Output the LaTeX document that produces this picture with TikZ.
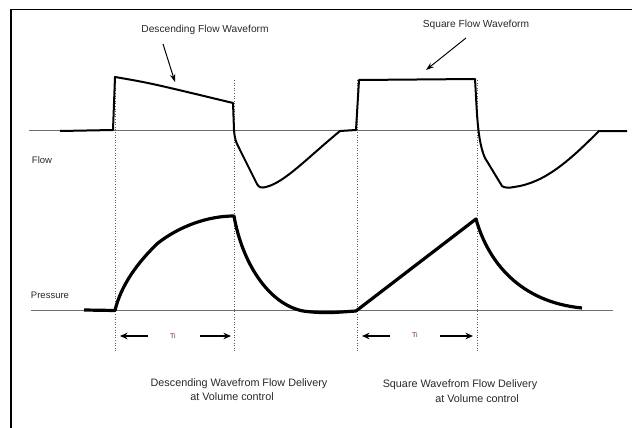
\documentclass[tikz,border=0pt]{standalone}
\usepackage{fontspec}
\setmainfont{Liberation Sans}
\usetikzlibrary{arrows.meta}
\definecolor{basegray}{RGB}{110,110,110}
\definecolor{dotgray}{RGB}{90,90,90}
\definecolor{tired}{RGB}{110,40,70}
\definecolor{txt}{RGB}{40,40,40}
\tikzset{
  frameline/.style={line width=1.3pt,black},
  baseline/.style={line width=1.5pt,basegray},
  guide/.style={line width=0.6pt,dotgray,dotted},
  flowwave/.style={line width=2pt,black,line join=round},
  preswave/.style={line width=3.2pt,black,line join=round},
  lbl/.style={font=\fontsize{9.5}{11}\selectfont,text=txt,inner sep=0pt},
  toplbl/.style={font=\fontsize{10.2}{12}\selectfont,text=txt,inner sep=0pt},
  caplbl/.style={font=\fontsize{10.8}{13}\selectfont,text=txt,inner sep=0pt},
  tilbl/.style={font=\fontsize{7}{8}\selectfont,text=tired,inner sep=0pt},
  ptr/.style={line width=1pt,black,-{Stealth[length=8pt,width=5.5pt]}},
  tiarrow/.style={line width=1.2pt,black,-{Stealth[length=7.5pt,width=6.5pt]}}
}
\begin{document}
\begin{tikzpicture}[x=1pt,y=-1pt]
\useasboundingbox (0,0) rectangle (632,428);
% frame
\draw[frameline] (11,428) -- (11,9.5) -- (632,9.5);
% baselines
\draw[baseline] (29,130.5) -- (627,130.5);
\draw[baseline] (31,310.5) -- (613,310.5);
% guide lines
\foreach \gx in {115,234,357,477}{
  \draw[guide] (\gx,80) -- (\gx,352);
}
% flow waveform
\draw[flowwave] (60,131) -- (113,130) -- (115,77)
  .. controls (150,83) .. (233,103) -- (234,130)
  .. controls (235,140) .. (241,152) -- (257,184)
  .. controls (259,188) and (262,188) .. (266,187)
  .. controls (285,182) and (305,160) .. (340,131)
  -- (356,130) -- (359,80) -- (475,79)
  .. controls (477,110) and (477,140) .. (485,158)
  -- (502,186)
  .. controls (504,188) and (510,188) .. (514,187)
  .. controls (545,183) and (570,160) .. (599,131) -- (627,131);
% pressure waveform
\draw[preswave] (84,310) -- (115,310.5)
  .. controls (121,285) and (138,262) .. (158,243)
  .. controls (180,226) and (208,216) .. (234,216)
  .. controls (242,262) and (268,304) .. (303,311)
  .. controls (325,314) and (340,312) .. (356,311)
  -- (476,219)
  .. controls (488,262) and (520,302) .. (582,308);
% labels
\node[lbl] (flow) at (42,160) {Flow};
\node[lbl] (pres) at (50,295) {Pressure};
\node[toplbl] (desc) at (205,30) {Descending Flow Waveform};
\node[toplbl] (squa) at (476,25) {Square Flow Waveform};
\coordinate (descfrom) at (163,44);
\coordinate (desctip) at (175,82);
\coordinate (squafrom) at (466,38);
\coordinate (squatip) at (426,70);
\draw[ptr] (descfrom) -- (desctip);
\draw[ptr] (squafrom) -- (squatip);
% Ti
\node[tilbl] (ti1) at (173,336) {Ti};
\node[tilbl] (ti2) at (415,335) {Ti};
\coordinate (l1s) at (148,336); \coordinate (l1e) at (120,336);
\coordinate (r1s) at (200,336); \coordinate (r1e) at (231,336);
\coordinate (l2s) at (390,336); \coordinate (l2e) at (362,336);
\coordinate (r2s) at (440,336); \coordinate (r2e) at (473,336);
\draw[tiarrow] (l1s) -- (l1e);
\draw[tiarrow] (r1s) -- (r1e);
\draw[tiarrow] (l2s) -- (l2e);
\draw[tiarrow] (r2s) -- (r2e);
% captions
\node[caplbl] (c1a) at (239,384) {Descending Wavefrom Flow Delivery};
\node[caplbl] (c1b) at (232,397) {at Volume control};
\node[caplbl] (c2a) at (460,385) {Square Wavefrom Flow Delivery};
\node[caplbl] (c2b) at (477,399) {at Volume control};
\end{tikzpicture}
\end{document}
